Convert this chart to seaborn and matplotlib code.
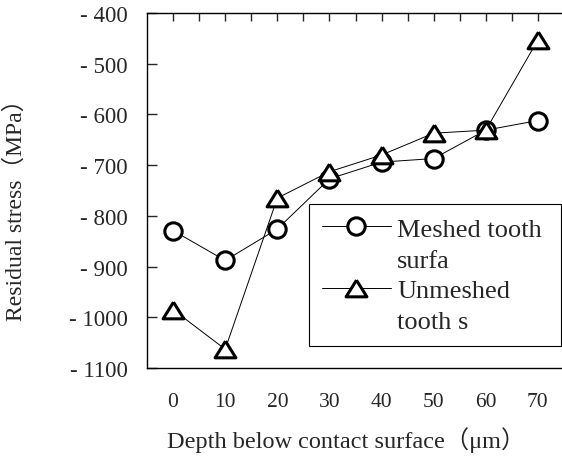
import matplotlib
matplotlib.use("Agg")
import matplotlib.pyplot as plt
from matplotlib.lines import Line2D
from matplotlib.markers import MarkerStyle
import pandas as pd
import seaborn as sns

# data
depth = [0, 10, 20, 30, 40, 50, 60, 70]
meshed = [-829, -888, -826, -727, -694, -687, -631, -612]
unmeshed = [-985, -1063, -765, -713, -680, -637, -631, -453]

y_ticks = [-1100, -1000, -900, -800, -700, -600, -500, -400]
y_tick_labels = ["- 1100", "- 1000", "- 900", "- 800", "- 700", "- 600", "- 500", "- 400"]
x_ticks = [0, 10, 20, 30, 40, 50, 60, 70]
x_minor = [5, 15, 25, 35, 45, 55, 65]

label_meshed = ["Meshed tooth", "surfa"]
label_unmeshed = ["Unmeshed", "tooth s"]
x_title = "Depth below contact surface（μm）"
y_title = "Residual stress（MPa）"

df = pd.DataFrame({"depth": depth, "meshed": meshed, "unmeshed": unmeshed})

sns.set_style("white")
plt.rcParams["font.family"] = ["Liberation Serif", "Noto Sans CJK SC"]

fig = plt.figure(figsize=(5.62, 4.64), dpi=100)
ax = fig.add_axes([147 / 562, 1 - 369 / 464, 417 / 562, 355 / 464])

# flat triangle, a bit wider than tall
tri = MarkerStyle([(0, 0.8), (-1, -0.8), (1, -0.8), (0, 0.8)])

sns.lineplot(data=df, x="depth", y="meshed", ax=ax, color="black", lw=0.7,
             marker="o", ms=12.5, mfc="white", mec="black", mew=2.2, legend=False)
sns.lineplot(data=df, x="depth", y="unmeshed", ax=ax, color="black", lw=0.7,
             marker=tri, ms=15, mfc="white", mec="black", mew=2.2, legend=False)

ax.set_xlim(-5, 75)
ax.set_ylim(-1100, -400)
ax.set_xticks(x_ticks)
ax.set_xticks(x_minor, minor=True)
ax.set_yticks(y_ticks, labels=y_tick_labels)
ax.set_xlabel("")
ax.set_ylabel("")

ax.tick_params(axis="x", which="both", bottom=False, top=True, direction="in",
               length=6, width=1, labelbottom=True, labelsize=15.5, pad=17)
ax.tick_params(axis="y", which="both", left=True, right=False, direction="in",
               length=7, width=1, labelsize=16.5, pad=14)

for side in ["left", "top", "bottom"]:
    ax.spines[side].set_visible(True)
    ax.spines[side].set_color("black")
    ax.spines[side].set_linewidth(1.0)
ax.spines["right"].set_visible(False)

# legend: one row per text line so the symbol sits on the first line
lines = ax.get_lines()
blank = Line2D([], [], lw=0)
leg = ax.legend([lines[0], blank, lines[1], blank],
                [label_meshed[0], label_meshed[1], label_unmeshed[0], label_unmeshed[1]],
                loc="upper left", bbox_to_anchor=(0.388, 0.068, 0.605, 0.394),
                mode="expand", fontsize=19, frameon=True, fancybox=False,
                edgecolor="black", framealpha=1, borderpad=0.5,
                handlelength=2.6, handletextpad=0.25, labelspacing=0.28,
                borderaxespad=0)
leg._legend_box.align = "left"
leg.get_frame().set_linewidth(0.8)

fig.text(16 / 562, 1 - 204 / 464, y_title, rotation=90, ha="center", va="center",
         fontsize=17)
fig.text(346 / 562, 1 - 440 / 464, x_title, ha="center", va="center", fontsize=17.5)

fig.savefig("out.png", dpi=100)
